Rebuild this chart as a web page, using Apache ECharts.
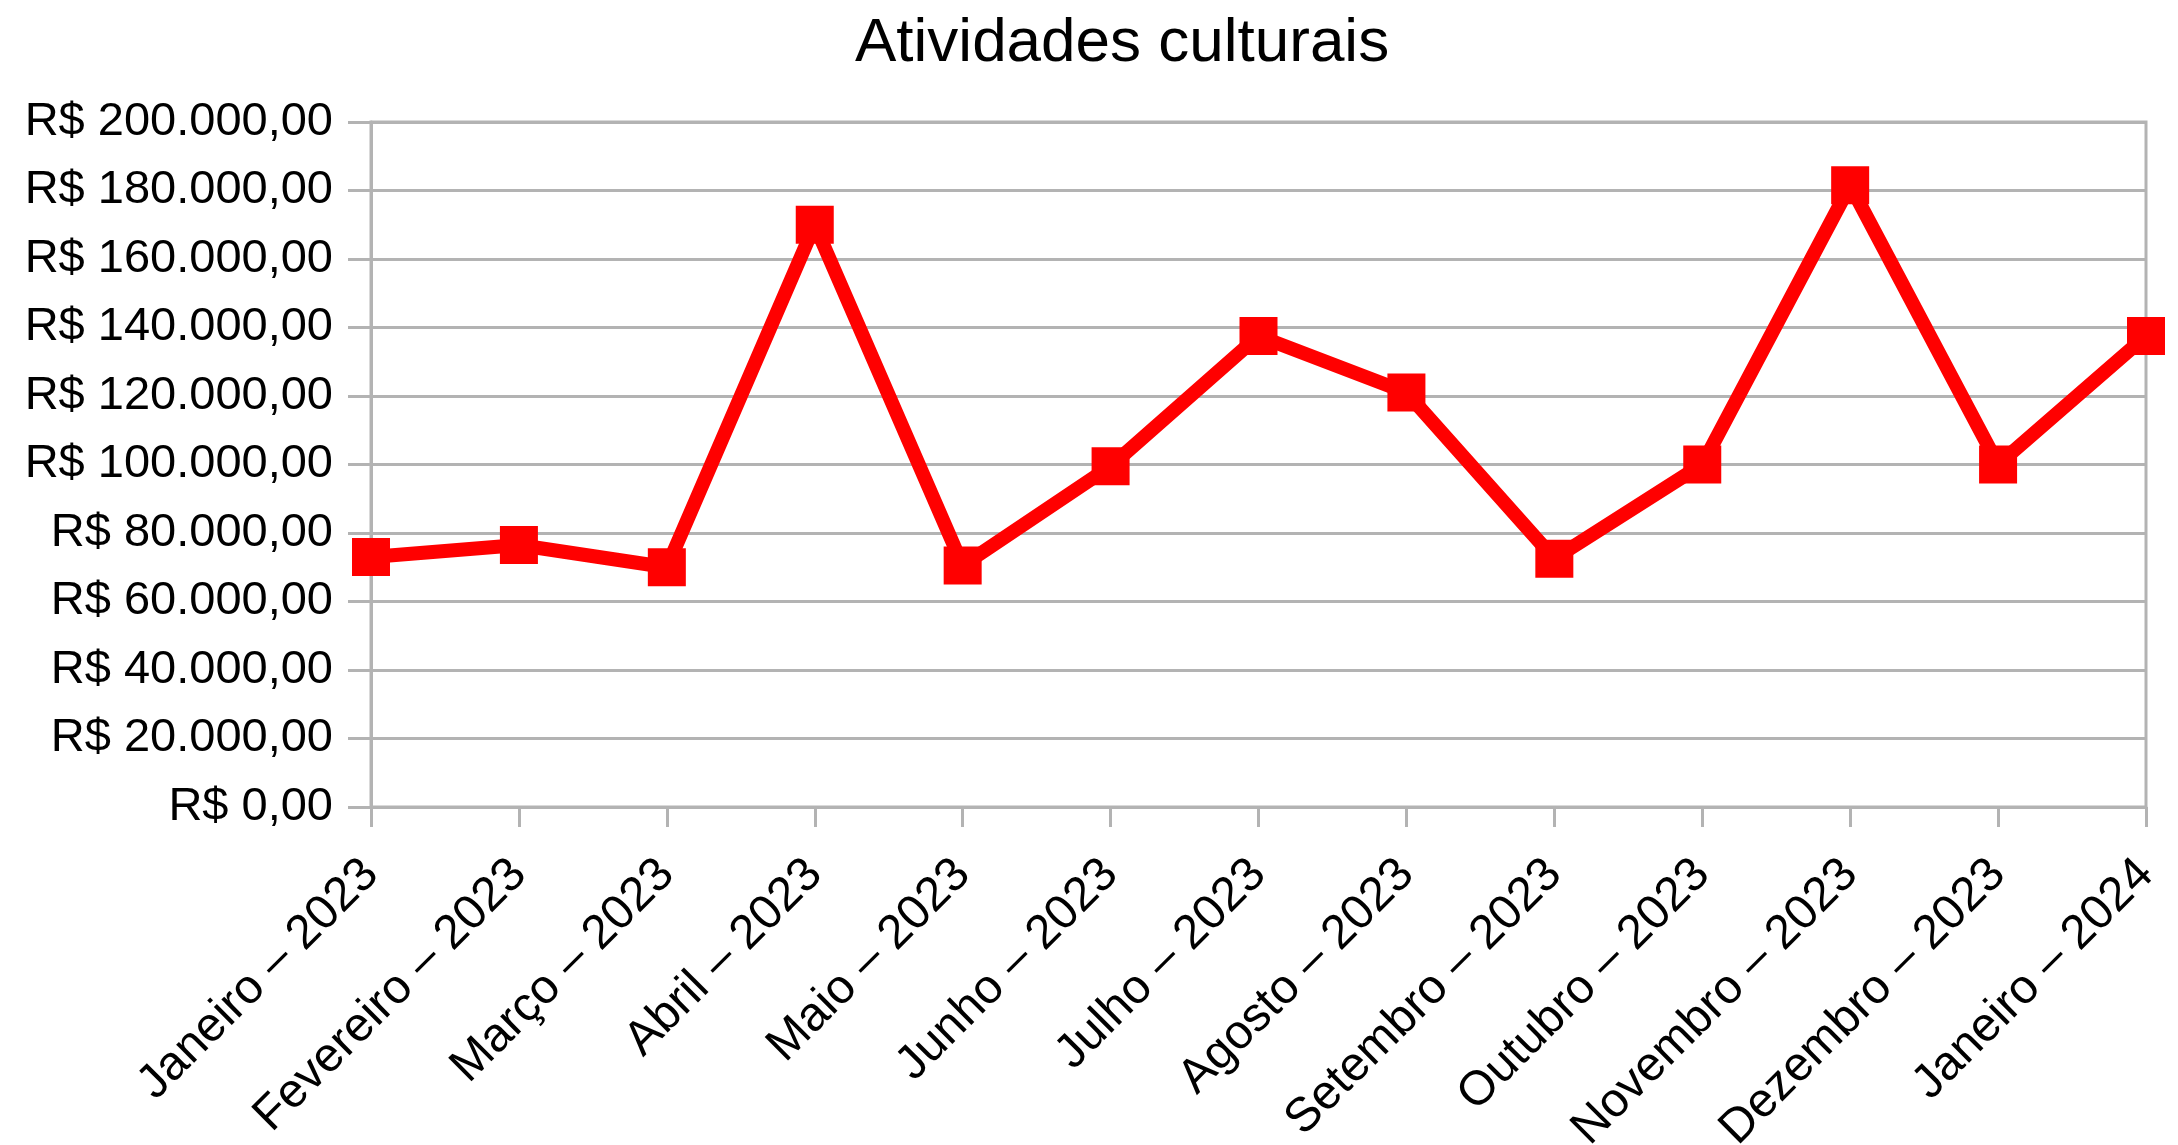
<!DOCTYPE html>
<html>
<head>
<meta charset="utf-8">
<title>Atividades culturais</title>
<script src="https://cdn.jsdelivr.net/npm/echarts@6/dist/echarts.min.js"></script>
<style>
	html, body { margin: 0; padding: 0; background: #fff; }
	#chart { width: 2178px; height: 1145px; }
</style>
</head>
<body>
<div id="chart"></div>
<script>
// meses (eixo x)
var meses = ["Janeiro – 2023", "Fevereiro – 2023", "Março – 2023", "Abril – 2023", "Maio – 2023",
	"Junho – 2023", "Julho – 2023", "Agosto – 2023", "Setembro – 2023", "Outubro – 2023",
	"Novembro – 2023", "Dezembro – 2023", "Janeiro – 2024"];

// valores, em R$
var valores = [73000, 76500, 70000, 170000, 70500, 99500, 137500, 121000, 72500, 100000, 181500, 100000, 137500];

// escala do eixo y
var yMin = 0, yMax = 200000, yPasso = 20000;

var cinza = "#b3b3b3";
var fonte = "Liberation Sans";

// formata 120000 -> "R$ 120.000,00"
function formataReal(v) {
	var s = String(Math.round(v));
	var partes = [];
	while (s.length > 3) {
		partes.unshift(s.slice(-3));
		s = s.slice(0, -3);
	}
	partes.unshift(s);
	return "R$ " + partes.join(".") + ",00";
}

function setOption() {
	return {
		animation: false,
		backgroundColor: "#fff",
		title: {
			text: "Atividades culturais",
			left: 850,
			top: 8,
			textStyle: { fontFamily: fonte, fontSize: 62, fontWeight: "normal", color: "#000" }
		},
		grid: {
			left: 371,
			right: 32,
			top: 122,
			bottom: 338,
			containLabel: false,
			outerBoundsMode: "none",
			show: true,
			borderColor: cinza,
			borderWidth: 3
		},
		xAxis: {
			type: "category",
			data: meses,
			boundaryGap: false,
			axisLine: { show: true, lineStyle: { color: cinza, width: 3 } },
			axisTick: { show: true, length: 20, lineStyle: { color: cinza, width: 3 } },
			axisLabel: {
				rotate: 45,
				interval: 0,
				margin: 60,
				fontFamily: fonte,
				fontSize: 48,
				color: "#000"
			},
			splitLine: { show: false }
		},
		yAxis: {
			type: "value",
			min: yMin,
			max: yMax,
			interval: yPasso,
			axisLine: { show: true, lineStyle: { color: cinza, width: 3 } },
			axisTick: { show: true, length: 23, lineStyle: { color: cinza, width: 3 } },
			axisLabel: {
				margin: 38,
				fontFamily: fonte,
				fontSize: 47,
				color: "#000",
				formatter: formataReal
			},
			splitLine: { show: true, lineStyle: { color: cinza, width: 3 } }
		},
		series: [{
			name: "Atividades culturais",
			type: "line",
			data: valores,
			symbol: "rect",
			symbolSize: 38,
			showAllSymbol: true,
			clip: false,
			lineStyle: { color: "#ff0000", width: 14 },
			itemStyle: { color: "#ff0000" }
		}]
	};
}

var dom = document.getElementById("chart");
var myChart = echarts.init(dom);
var option = setOption();
if (option && typeof option === "object") {
	myChart.setOption(option, true);
}
</script>
</body>
</html>
